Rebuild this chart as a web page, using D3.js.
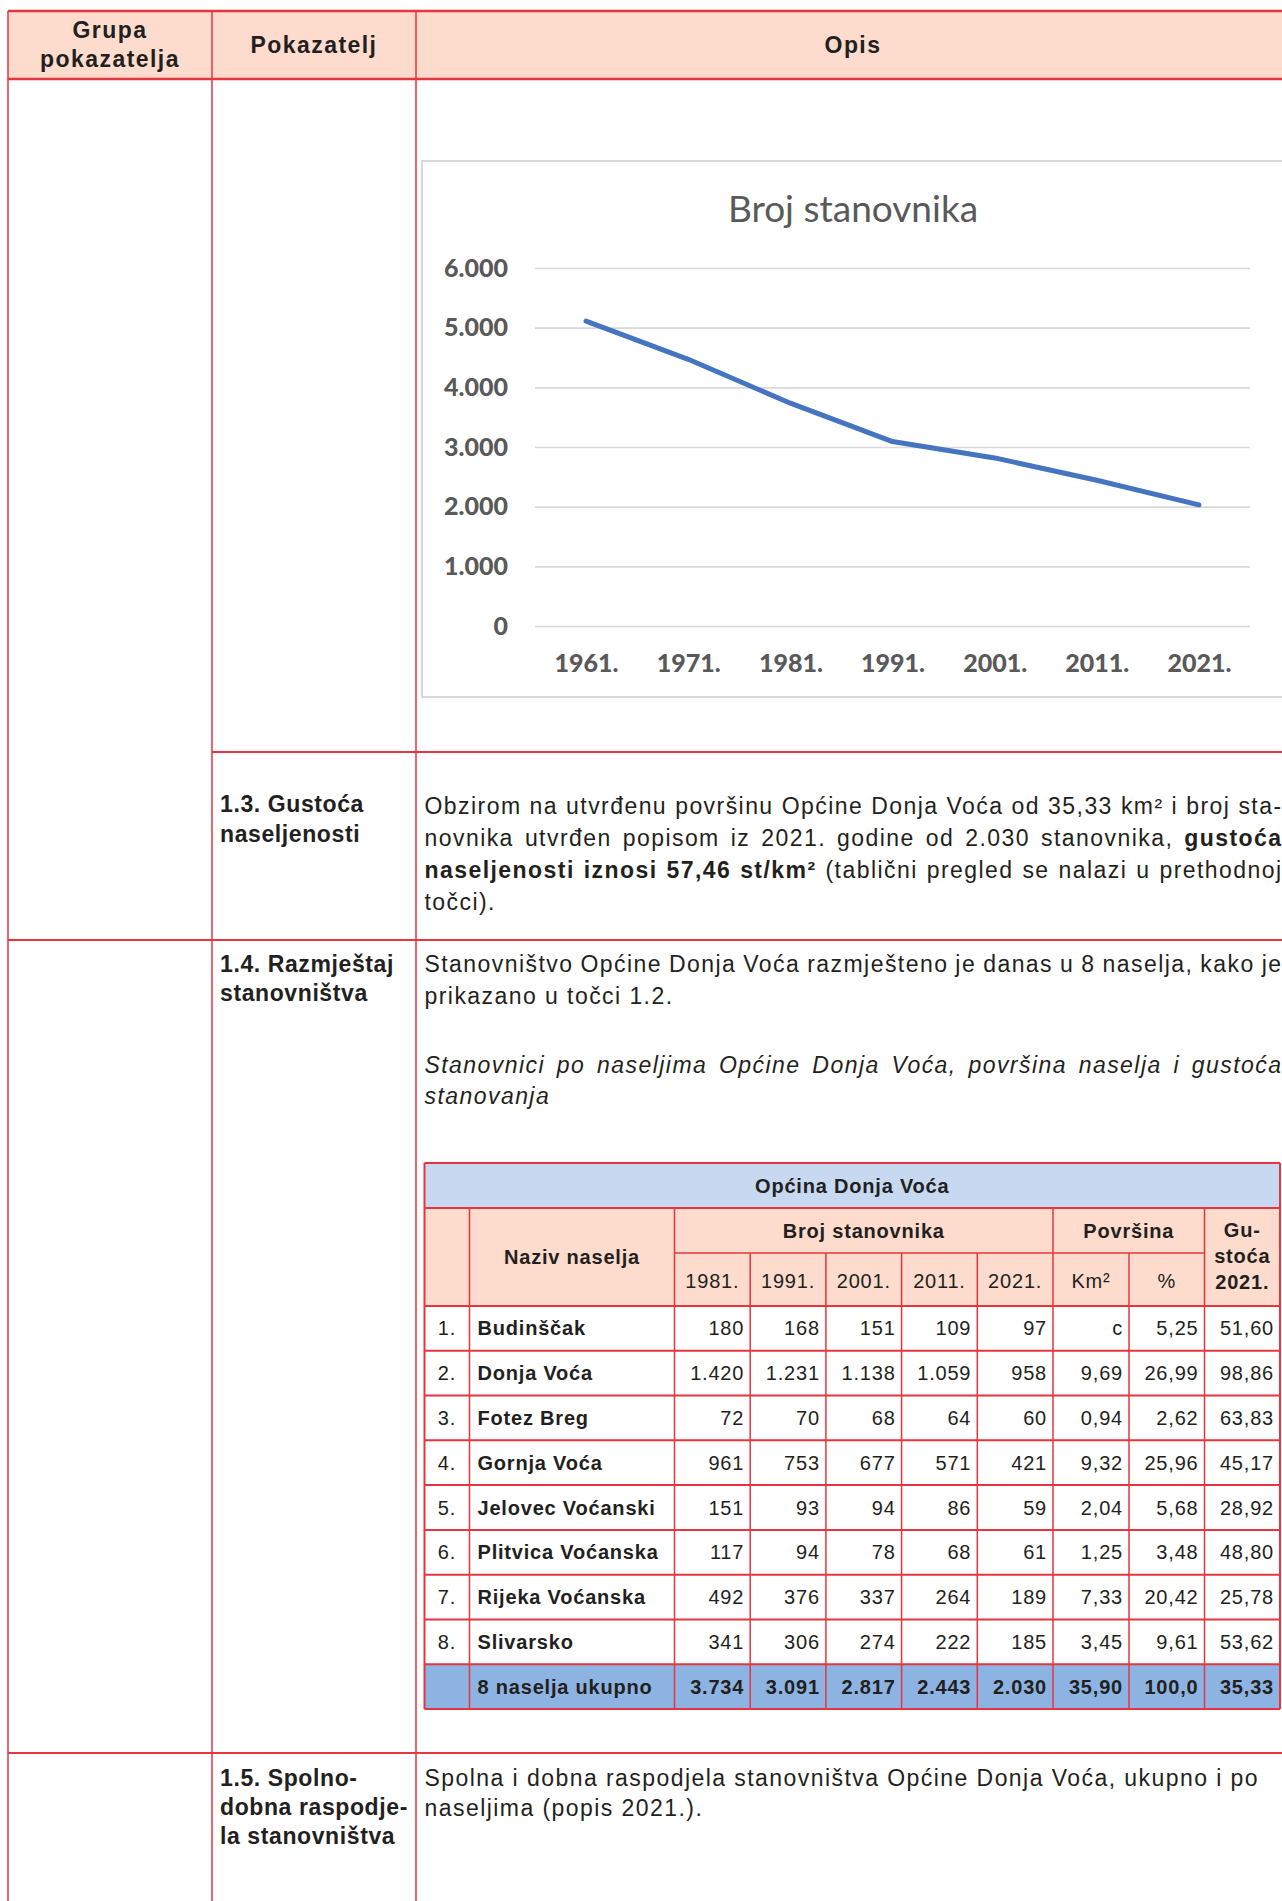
<!DOCTYPE html>
<html>
<head>
<meta charset="utf-8">
<script src="https://cdn.jsdelivr.net/npm/d3@7"></script>
<style>
body{margin:0;width:1282px;height:1901px;overflow:hidden;position:relative;background:#fff;
	font-family:"Liberation Sans",Arial,sans-serif;color:#231f20;}
.tx{position:absolute;white-space:nowrap;font-size:23px;}
.b{font-weight:bold;}
.i{font-style:italic;}
</style>
</head>
<body>
<script>
// chart data
var years = ["1961.", "1971.", "1981.", "1991.", "2001.", "2011.", "2021."];
var population = [5110, 4470, 3734, 3091, 2817, 2443, 2030];
var yTicks = [0, 1000, 2000, 3000, 4000, 5000, 6000];

// settlement table data
var tableYears = ["1981.", "1991.", "2001.", "2011.", "2021."];
var settlements = ["Budinščak", "Donja Voća", "Fotez Breg", "Gornja Voća", "Jelovec Voćanski", "Plitvica Voćanska", "Rijeka Voćanska", "Slivarsko"];
var settlementPop = [
	[180, 168, 151, 109, 97],
	[1420, 1231, 1138, 1059, 958],
	[72, 70, 68, 64, 60],
	[961, 753, 677, 571, 421],
	[151, 93, 94, 86, 59],
	[117, 94, 78, 68, 61],
	[492, 376, 337, 264, 189],
	[341, 306, 274, 222, 185]
];
var areaKm2 = ["c", "9,69", "0,94", "9,32", "2,04", "1,25", "7,33", "3,45"];
var areaPct = [5.25, 26.99, 2.62, 25.96, 5.68, 3.48, 20.42, 9.61];
var density = [51.60, 98.86, 63.83, 45.17, 28.92, 48.80, 25.78, 53.62];
var totalLabel = "8 naselja ukupno";
var totalPop = [3734, 3091, 2817, 2443, 2030];
var totalRest = ["35,90", "100,0", "35,33"];

var hr = d3.formatLocale({decimal: ",", thousands: ".", grouping: [3], currency: ["", ""]});
var fmtInt = hr.format(",");
var fmtDec = hr.format(".2f");

var RED = "#e8343e";
var PEACH = "#fddccd";

var body = d3.select("body");
var svg = body.append("svg")
	.attr("width", 1282).attr("height", 1901)
	.style("position", "absolute").style("left", 0).style("top", 0);

// ---- outer document table ----
svg.append("rect").attr("x", 8).attr("y", 11).attr("width", 1300).attr("height", 68).attr("fill", PEACH);

function hline(g, x1, x2, y, w){
	g.append("line").attr("x1", x1).attr("x2", x2).attr("y1", y).attr("y2", y)
		.attr("stroke", RED).attr("stroke-width", w || 2);
}
function vline(g, x, y1, y2, w){
	g.append("line").attr("x1", x).attr("x2", x).attr("y1", y1).attr("y2", y2)
		.attr("stroke", RED).attr("stroke-width", w || 1.5);
}

// ---- chart ----
var chart = svg.append("g").attr("class", "chart");
chart.append("rect").attr("x", 422).attr("y", 161).attr("width", 900).attr("height", 536)
	.attr("fill", "#fff").attr("stroke", "#d9d9d9").attr("stroke-width", 2);

chart.append("text").attr("x", 853).attr("y", 209).attr("dy", "0.35em")
	.attr("text-anchor", "middle")
	.style("font-family", "Lato, 'Open Sans', sans-serif").style("font-size", "37px")
	.style("fill", "#595959")
	.text("Broj stanovnika");

var x = d3.scalePoint().domain(years).range([535, 1250]).padding(0.5);
var y = d3.scaleLinear().domain([0, 6000]).range([626, 268]);

var yAxis = chart.append("g").attr("transform", "translate(535,0)")
	.call(d3.axisLeft(y).tickValues(yTicks).tickSize(-715).tickPadding(27).tickFormat(fmtInt));
yAxis.select(".domain").remove();
yAxis.selectAll(".tick line").attr("stroke", "#d9d9d9").attr("stroke-width", 1.6);

var xAxis = chart.append("g").attr("transform", "translate(0,626)")
	.call(d3.axisBottom(x).tickSize(0).tickPadding(28));
xAxis.select(".domain").remove();

chart.selectAll(".tick text")
	.style("font-family", "Lato, 'Open Sans', sans-serif").style("font-size", "25px")
	.style("font-weight", "900").attr("fill", "#595959");

var line = d3.line()
	.x(function(d, i){ return x(years[i]); })
	.y(function(d){ return y(d); });

chart.append("path").datum(population)
	.attr("d", line)
	.attr("fill", "none").attr("stroke", "#4575c0").attr("stroke-width", 5)
	.attr("stroke-linecap", "round").attr("stroke-linejoin", "round");

// ---- settlement table ----
var tb = svg.append("g").attr("class", "tbl");
var tL = 424.5, tR = 1280, cNum = 469.5, cName = 674.5, cArea = 1053, cPct = 1129, cDen = 1204.5;
var yTop = 1163, yTitle = 1208, yMid = 1253, yHead = 1306, yBot = 1709;
var colYear = d3.scaleBand().domain(tableYears).range([cName, cArea]);
var rowIdx = d3.range(settlements.length + 1);
var row = d3.scaleBand().domain(rowIdx).range([yHead, yBot]);

tb.append("rect").attr("x", tL).attr("y", yTop).attr("width", tR - tL).attr("height", yTitle - yTop).attr("fill", "#c6d9f1");
tb.append("rect").attr("x", tL).attr("y", yTitle).attr("width", tR - tL).attr("height", yHead - yTitle).attr("fill", PEACH);
tb.append("rect").attr("x", tL).attr("y", row(settlements.length)).attr("width", tR - tL)
	.attr("height", row.bandwidth()).attr("fill", "#8db3e2");

hline(tb, tL, tR, yTop);
hline(tb, tL, tR, yTitle);
hline(tb, cName, cDen, yMid, 1.5);
rowIdx.forEach(function(i){ hline(tb, tL, tR, row(i)); });
hline(tb, tL, tR, yBot);
vline(tb, tL, yTop, yBot, 2);
vline(tb, tR, yTop, yBot, 2);
[cNum, cName, cArea, cDen].forEach(function(cx){ vline(tb, cx, yTitle, yBot); });
tableYears.slice(1).forEach(function(yr){ vline(tb, colYear(yr), yMid, yBot); });
vline(tb, cPct, yMid, yBot);

function ttext(xp, yp, s, anchor, bold){
	return tb.append("text").attr("x", xp).attr("y", yp).attr("dy", "0.35em")
		.attr("text-anchor", anchor || "start")
		.style("font-size", "20px").style("letter-spacing", "0.8px")
		.style("font-weight", bold ? "bold" : "normal").attr("fill", "#231f20")
		.text(s);
}
ttext((tL + tR) / 2, (yTop + yTitle) / 2, "Općina Donja Voća", "middle", true);
ttext((cNum + cName) / 2, (yTitle + yHead) / 2, "Naziv naselja", "middle", true);
ttext((cName + cArea) / 2, (yTitle + yMid) / 2, "Broj stanovnika", "middle", true);
ttext((cArea + cDen) / 2, (yTitle + yMid) / 2, "Površina", "middle", true);
tableYears.forEach(function(yr){ ttext(colYear(yr) + colYear.bandwidth() / 2, (yMid + yHead) / 2 + 1, yr, "middle"); });
ttext((cArea + cPct) / 2, (yMid + yHead) / 2 + 1, "Km²", "middle");
ttext((cPct + cDen) / 2, (yMid + yHead) / 2 + 1, "%", "middle");
ttext((cDen + tR) / 2, 1230, "Gu-", "middle", true);
ttext((cDen + tR) / 2, 1256, "stoća", "middle", true);
ttext((cDen + tR) / 2, 1282, "2021.", "middle", true);

var pad = 6;
settlements.forEach(function(name, i){
	var cy = row(i) + row.bandwidth() / 2;
	ttext((tL + cNum) / 2, cy, (i + 1) + ".", "middle");
	ttext(cNum + 8, cy, name, "start", true);
	settlementPop[i].forEach(function(v, j){
		ttext(colYear(tableYears[j]) + colYear.bandwidth() - pad, cy, fmtInt(v), "end");
	});
	ttext(cPct - pad, cy, areaKm2[i], "end");
	ttext(cDen - pad, cy, fmtDec(areaPct[i]), "end");
	ttext(tR - pad, cy, fmtDec(density[i]), "end");
});
var ty = row(settlements.length) + row.bandwidth() / 2;
ttext(cNum + 8, ty, totalLabel, "start", true);
totalPop.forEach(function(v, j){
	ttext(colYear(tableYears[j]) + colYear.bandwidth() - pad, ty, fmtInt(v), "end", true);
});
[cPct, cDen, tR].forEach(function(cx, j){ ttext(cx - pad, ty, totalRest[j], "end", true); });

// ---- document table rules (drawn last so they sit on top) ----
var doc = svg.append("g");
hline(doc, 8, 1300, 11, 2.5);
hline(doc, 8, 1300, 79, 2.5);
hline(doc, 212, 1300, 752, 2);
hline(doc, 8, 1300, 940, 2);
hline(doc, 8, 1300, 1753, 2);
[8, 212, 416].forEach(function(cx){ vline(doc, cx, 11, 1901); });

// ---- text (html) ----
// work out letter spacing so the reference line keeps its width
var probe = body.append("span").attr("class", "tx").style("visibility", "hidden")
	.text("Spolna i dobna raspodjela stanovništva Općine Donja Voća, ukupno i po");
var w0 = probe.node().getBoundingClientRect().width;
var LS = Math.max(0, (836 - w0) / 70);
probe.remove();
var LSB = 0.6; // tighter spacing for the narrow label column

function tline(xp, cy, html, opts){
	opts = opts || {};
	var lh = 30;
	var d = body.append("div").attr("class", "tx" + (opts.cls ? " " + opts.cls : ""))
		.style("left", xp + "px").style("top", (cy - lh / 2) + "px")
		.style("line-height", lh + "px").style("letter-spacing", (opts.ls != null ? opts.ls : LS) + "px")
		.html(html);
	if(opts.center){
		var w = d.node().getBoundingClientRect().width;
		d.style("left", (xp - w / 2) + "px");
	}
	if(opts.justify){
		var wn = d.node().getBoundingClientRect().width;
		var spaces = (d.text().match(/ /g) || []).length;
		d.style("word-spacing", ((opts.justify - wn) / spaces) + "px");
	}
	return d;
}

tline(110, 30, "Grupa", {cls: "b", center: true});
tline(110, 59, "pokazatelja", {cls: "b", center: true});
tline(314, 45, "Pokazatelj", {cls: "b", center: true});
tline(853, 45, "Opis", {cls: "b", center: true});

var TX = 424.5, JW = 858;
tline(220, 804, "1.3. Gustoća", {cls: "b", ls: LSB});
tline(220, 834, "naseljenosti", {cls: "b", ls: LSB});
tline(TX, 806, "Obzirom na utvrđenu površinu Općine Donja Voća od 35,33 km² i broj sta-", {justify: JW});
tline(TX, 838, "novnika utvrđen popisom iz 2021. godine od 2.030 stanovnika, <b>gustoća</b>", {justify: JW});
tline(TX, 870, "<b>naseljenosti iznosi 57,46 st/km²</b> (tablični pregled se nalazi u prethodnoj", {justify: JW});
tline(TX, 902, "točci).");

tline(220, 964, "1.4. Razmještaj", {cls: "b", ls: LSB});
tline(220, 993, "stanovništva", {cls: "b", ls: LSB});
tline(TX, 964, "Stanovništvo Općine Donja Voća razmješteno je danas u 8 naselja, kako je", {justify: JW});
tline(TX, 996, "prikazano u točci 1.2.");
tline(TX, 1065, "Stanovnici po naseljima Općine Donja Voća, površina naselja i gustoća", {cls: "i", justify: JW});
tline(TX, 1096, "stanovanja", {cls: "i"});

tline(220, 1778, "1.5. Spolno-", {cls: "b", ls: LSB});
tline(220, 1807, "dobna raspodje-", {cls: "b", ls: LSB});
tline(220, 1836, "la stanovništva", {cls: "b", ls: LSB});
tline(TX, 1778, "Spolna i dobna raspodjela stanovništva Općine Donja Voća, ukupno i po");
tline(TX, 1808, "naseljima (popis 2021.).");
</script>
</body>
</html>
